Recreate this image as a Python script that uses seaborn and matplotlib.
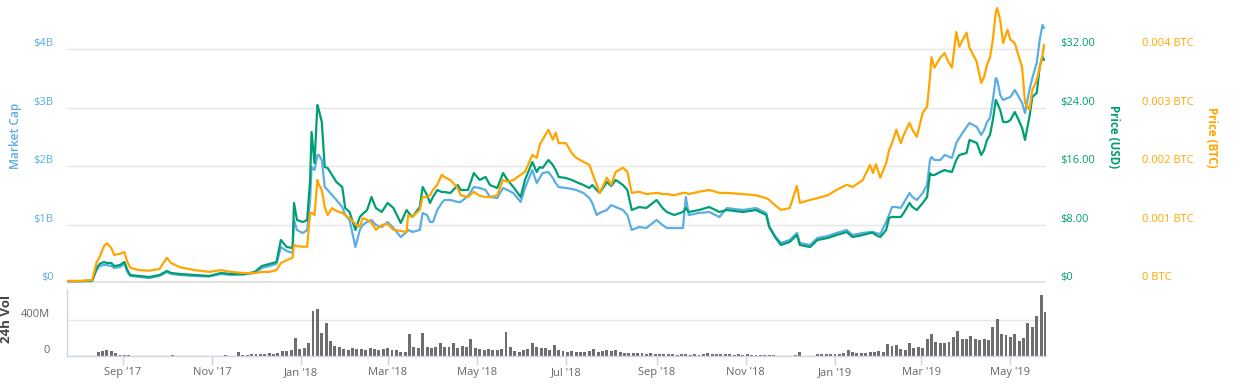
import numpy as np
import pandas as pd
import matplotlib
matplotlib.use("Agg")
import matplotlib.pyplot as plt
import matplotlib.dates as mdates
from matplotlib.ticker import FuncFormatter
import seaborn as sns

sns.set_theme(style="white")
plt.rcParams["font.family"] = ["Open Sans", "DejaVu Sans"]

# ---------------- data ----------------
dates = ["2017-07-25","2017-08-03","2017-08-11","2017-08-14","2017-08-16","2017-08-19","2017-08-21","2017-08-24","2017-08-26","2017-08-30",
         "2017-09-02","2017-09-04","2017-09-06","2017-09-12","2017-09-19","2017-09-26","2017-10-01","2017-10-04","2017-10-10","2017-10-20",
         "2017-10-30","2017-11-07","2017-11-14","2017-11-23","2017-11-30","2017-12-05","2017-12-10","2017-12-15","2017-12-18","2017-12-22",
         "2017-12-26","2017-12-27","2017-12-29","2018-01-02","2018-01-05","2018-01-07","2018-01-08","2018-01-10","2018-01-12","2018-01-13",
         "2018-01-15","2018-01-17","2018-01-19","2018-01-22","2018-01-25","2018-01-29","2018-01-31","2018-02-03","2018-02-07","2018-02-10",
         "2018-02-12","2018-02-15","2018-02-18","2018-02-21","2018-02-25","2018-03-01","2018-03-05","2018-03-10","2018-03-14","2018-03-15",
         "2018-03-18","2018-03-23","2018-03-25","2018-03-28","2018-03-30","2018-04-01","2018-04-04","2018-04-07","2018-04-09","2018-04-13",
         "2018-04-18","2018-04-20","2018-04-25","2018-04-29","2018-05-03","2018-05-07","2018-05-10","2018-05-15","2018-05-19","2018-05-22",
         "2018-05-26","2018-05-31","2018-06-03","2018-06-08","2018-06-11","2018-06-13","2018-06-15","2018-06-19","2018-06-22","2018-06-24",
         "2018-06-26","2018-07-01","2018-07-05","2018-07-08","2018-07-13","2018-07-17","2018-07-19","2018-07-22","2018-07-24","2018-07-29",
         "2018-08-01","2018-08-04","2018-08-09","2018-08-12","2018-08-15","2018-08-20","2018-08-25","2018-09-01","2018-09-05","2018-09-08",
         "2018-09-13","2018-09-19","2018-09-21","2018-09-23","2018-09-30","2018-10-07","2018-10-14","2018-10-19","2018-10-30","2018-11-08",
         "2018-11-15","2018-11-17","2018-11-21","2018-11-25","2018-12-01","2018-12-06","2018-12-08","2018-12-15","2018-12-20","2018-12-27",
         "2019-01-02","2019-01-09","2019-01-13","2019-01-20","2019-01-25","2019-01-27","2019-01-29","2019-02-01","2019-02-05","2019-02-07",
         "2019-02-09","2019-02-12","2019-02-15","2019-02-17","2019-02-21","2019-02-23","2019-02-26","2019-03-02","2019-03-05","2019-03-07",
         "2019-03-08","2019-03-10","2019-03-14","2019-03-17","2019-03-19","2019-03-22","2019-03-25","2019-03-27","2019-04-01","2019-04-03",
         "2019-04-08","2019-04-11","2019-04-13","2019-04-15","2019-04-17","2019-04-19","2019-04-21","2019-04-22","2019-04-24","2019-04-26",
         "2019-04-29","2019-05-01","2019-05-04","2019-05-06","2019-05-09","2019-05-11","2019-05-12","2019-05-14","2019-05-16","2019-05-19",
         "2019-05-21","2019-05-23","2019-05-24"]

price_usd = [0.27,0.27,0.34,2.05,2.60,2.87,2.74,2.74,2.32,2.46,
             2.87,1.78,1.09,0.96,0.82,1.09,1.64,1.37,1.23,1.09,
             0.96,1.37,1.23,1.23,1.50,2.32,2.60,2.87,5.88,4.92,
             4.79,10.94,8.62,8.34,8.62,14.09,20.65,16.41,24.34,23.66,
             22.02,15.86,15.73,14.77,13.81,13.13,10.26,9.71,7.25,9.03,
             9.44,9.98,11.76,10.26,9.71,10.94,10.26,8.21,9.98,9.71,
             9.03,10.39,13.13,12.03,10.94,11.76,12.72,12.44,12.44,12.31,
             13.40,12.72,12.72,15.04,14.09,14.50,13.40,12.99,15.04,14.09,
             13.13,11.76,14.09,16.55,15.18,15.86,15.73,16.82,16.14,15.45,
             14.50,14.36,14.09,13.81,13.40,12.99,13.40,12.72,12.31,13.81,
             13.26,14.09,13.40,12.72,9.98,10.39,10.26,11.35,10.26,9.71,
             9.30,9.71,10.26,9.71,9.98,10.39,9.71,9.98,9.71,9.98,
             9.30,7.66,6.29,5.20,5.61,6.56,5.20,4.92,5.88,6.15,
             6.56,6.97,6.29,6.56,6.84,6.84,6.56,6.29,7.25,8.89,
             9.03,9.03,9.03,9.57,10.94,10.39,9.98,10.94,11.76,15.04,
             14.77,14.77,15.18,15.45,15.32,15.18,16.82,17.50,17.78,19.56,
             19.15,17.50,18.19,19.56,20.24,22.29,25.03,24.62,23.66,22.02,
             22.02,22.29,23.38,22.56,21.20,19.56,20.65,22.70,25.44,25.98,
             29.54,30.91,30.50]

market_cap_bn = [0.026,0.026,0.034,0.222,0.291,0.308,0.308,0.291,0.256,0.274,
                 0.325,0.188,0.120,0.103,0.085,0.120,0.188,0.154,0.137,0.120,
                 0.111,0.154,0.137,0.145,0.171,0.256,0.291,0.325,0.615,0.547,
                 0.513,1.077,0.906,0.855,0.906,1.419,1.983,1.931,2.188,2.188,
                 2.102,1.641,1.590,1.504,1.419,1.299,1.162,1.077,0.615,0.906,
                 0.991,1.043,1.077,0.991,0.957,1.043,0.940,0.786,0.872,0.906,
                 0.872,0.906,1.197,1.162,1.043,1.043,1.248,1.368,1.419,1.419,
                 1.385,1.385,1.487,1.641,1.624,1.590,1.470,1.453,1.624,1.590,
                 1.538,1.385,1.624,1.931,1.709,1.795,1.880,1.897,1.795,1.709,
                 1.641,1.624,1.607,1.590,1.538,1.453,1.368,1.162,1.197,1.248,
                 1.333,1.299,1.248,1.162,0.906,0.957,0.940,1.077,0.991,0.940,
                 0.940,0.940,1.470,1.162,1.197,1.214,1.128,1.282,1.248,1.282,
                 1.197,0.974,0.803,0.684,0.735,0.855,0.684,0.650,0.769,0.803,
                 0.855,0.906,0.821,0.855,0.872,0.872,0.855,0.838,1.043,1.162,
                 1.299,1.299,1.282,1.368,1.538,1.470,1.419,1.538,1.675,2.102,
                 2.154,2.102,2.102,2.188,2.171,2.137,2.393,2.479,2.667,2.735,
                 2.667,2.530,2.615,2.752,2.821,3.128,3.504,3.470,3.214,3.128,
                 3.162,3.179,3.299,3.214,3.077,2.906,3.043,3.299,3.504,3.761,
                 4.154,4.410,4.359]

price_btc = [0.000034,0.000034,0.000051,0.00036,0.00044,0.00063,0.00068,0.00060,0.00048,0.00050,
             0.00053,0.00036,0.00026,0.00022,0.00021,0.00024,0.00043,0.00034,0.00027,0.00022,
             0.00019,0.00022,0.00019,0.00017,0.00017,0.00019,0.00019,0.00022,0.00034,0.00039,
             0.00043,0.00065,0.00063,0.00062,0.00062,0.00120,0.00120,0.00116,0.00176,0.00168,
             0.00159,0.00130,0.00116,0.00128,0.00123,0.00120,0.00116,0.00111,0.00101,0.00096,
             0.00111,0.00108,0.00103,0.00091,0.00099,0.00101,0.00091,0.00089,0.00087,0.00116,
             0.00113,0.00125,0.00147,0.00147,0.00150,0.00159,0.00168,0.00185,0.00181,0.00176,
             0.00162,0.00150,0.00147,0.00156,0.00149,0.00147,0.00147,0.00150,0.00176,0.00173,
             0.00176,0.00185,0.00190,0.00219,0.00214,0.00236,0.00245,0.00262,0.00245,0.00257,
             0.00239,0.00239,0.00222,0.00214,0.00207,0.00202,0.00188,0.00168,0.00154,0.00180,
             0.00168,0.00190,0.00197,0.00190,0.00154,0.00156,0.00152,0.00154,0.00152,0.00152,
             0.00150,0.00154,0.00154,0.00152,0.00156,0.00159,0.00154,0.00154,0.00152,0.00150,
             0.00145,0.00142,0.00133,0.00125,0.00128,0.00166,0.00137,0.00142,0.00145,0.00150,
             0.00159,0.00168,0.00164,0.00176,0.00202,0.00188,0.00203,0.00180,0.00205,0.00227,
             0.00239,0.00262,0.00239,0.00253,0.00274,0.00262,0.00250,0.00291,0.00301,0.00352,
             0.00386,0.00368,0.00385,0.00393,0.00381,0.00368,0.00429,0.00404,0.00428,0.00402,
             0.00378,0.00342,0.00352,0.00373,0.00385,0.00416,0.00463,0.00470,0.00450,0.00410,
             0.00433,0.00416,0.00410,0.00393,0.00369,0.00308,0.00304,0.00296,0.00330,0.00347,
             0.00368,0.00390,0.00407]

# 24h volume (millions USD), one reading every 3 days starting 2017-07-25
vol_start = "2017-07-25"
volume_m = [0,0,0,0,0,0,0,40,55,70,
            55,35,15,12,15,4,3,2,2,2,
            2,2,2,3,8,2,2,2,2,2,
            2,2,3,3,3,4,8,4,5,44,
            6,10,18,25,22,25,28,25,35,60,
            55,70,200,75,90,150,500,520,260,370,
            170,110,100,80,70,85,75,80,70,90,
            75,70,80,85,70,65,40,45,240,95,
            90,260,95,85,100,150,95,100,140,90,
            110,95,185,90,80,70,75,65,70,80,
            265,100,55,50,70,80,140,95,85,90,
            70,120,65,55,50,55,45,50,40,55,
            75,50,60,70,55,65,40,30,35,30,
            28,32,25,30,22,25,20,25,18,15,
            17,18,16,17,15,20,28,25,22,18,
            17,18,16,17,15,17,15,16,15,14,
            15,14,5,2,2,3,8,45,5,3,
            5,20,22,25,20,22,25,30,68,45,
            30,35,30,40,50,55,50,130,110,120,
            80,65,150,90,105,85,190,245,160,150,
            140,160,210,280,190,185,225,190,180,185,
            175,320,415,250,230,215,245,170,200,370,
            320,450,680,490]

y_ticks_mc = [0, 1, 2, 3, 4]
y_ticks_usd = [0, 8, 16, 24, 32]
y_ticks_btc = [0, 0.001, 0.002, 0.003, 0.004]
vol_ticks = [0, 400]

# ---------------- styling ----------------
BLUE = "#5aaee3"
GREEN = "#009e73"
ORANGE = "#ffa500"
GRID = "#e6e6e6"
TICKC = "#666666"
AXISC = "#ccd6eb"

df = pd.DataFrame({"date": pd.to_datetime(dates), "usd": price_usd,
                   "mc": market_cap_bn, "btc": price_btc})
vdf = pd.DataFrame({"date": pd.date_range(vol_start, periods=len(volume_m), freq="3D"),
                    "vol": volume_m})

W_PX, H_PX = 1244, 392
fig = plt.figure(figsize=(W_PX / 100, H_PX / 100), dpi=100)
x0, x1 = 67.4, 1045.5
L, W = x0 / W_PX, (x1 - x0) / W_PX
main_top, main_bot = 5, 283
vol_top, vol_bot = 290, 356
ax = fig.add_axes([L, 1 - main_bot / H_PX, W, (main_bot - main_top) / H_PX])
ax_vol = fig.add_axes([L, 1 - vol_bot / H_PX, W, (vol_bot - vol_top) / H_PX])
ax_usd = ax.twinx()
ax_btc = ax.twinx()

xmin, xmax = pd.Timestamp("2017-07-25"), pd.Timestamp("2019-05-25")
top_units = (main_bot - main_top) / 58.5  # number of grid steps shown

sns.lineplot(data=df, x="date", y="mc", ax=ax, color=BLUE, lw=1.6)
sns.lineplot(data=df, x="date", y="usd", ax=ax_usd, color=GREEN, lw=1.6)
sns.lineplot(data=df, x="date", y="btc", ax=ax_btc, color=ORANGE, lw=1.6)

ax.set_ylim(0, top_units)
ax_usd.set_ylim(0, top_units * 8)
ax_btc.set_ylim(0, top_units * 0.001)
for a in (ax, ax_usd, ax_btc):
    a.set_xlim(xmin, xmax)
    a.set_xlabel("")
    a.set_ylabel("")
    a.patch.set_visible(False)
    for s in a.spines.values():
        s.set_visible(False)
    a.tick_params(axis="x", bottom=False, labelbottom=False, top=False)

ax.set_yticks(y_ticks_mc)
ax.yaxis.set_major_formatter(FuncFormatter(lambda v, p: "$0" if v == 0 else f"${v:.0f}B"))
ax.yaxis.grid(True, color=GRID, lw=1)
ax.set_axisbelow(True)
ax.axhline(0, color="#e3e3e3", lw=3, zorder=0.5)
ax.tick_params(axis="y", length=0, pad=10, labelsize=8, labelcolor=BLUE)

ax_usd.set_yticks(y_ticks_usd)
ax_usd.yaxis.set_major_formatter(FuncFormatter(lambda v, p: "$0" if v == 0 else f"${v:.2f}"))
ax_usd.tick_params(axis="y", length=0, pad=10.4, labelsize=8, labelcolor=GREEN)
ax_usd.grid(False)

ax_btc.set_yticks(y_ticks_btc)
ax_btc.yaxis.set_major_formatter(FuncFormatter(lambda v, p: "0 BTC" if v == 0 else f"{v:.3f} BTC"))
ax_btc.tick_params(axis="y", length=0, pad=69.5, labelsize=8, labelcolor=ORANGE)
ax_btc.grid(False)

for a in (ax, ax_usd, ax_btc):
    for t in a.get_yticklabels():
        t.set_va("bottom")

# volume panel
ax_vol.bar(vdf["date"], vdf["vol"], width=2.0, color="#6e6e6e", linewidth=0)
ax_vol.set_xlim(xmin, xmax)
ax_vol.set_ylim(0, (vol_bot - vol_top) * 400 / 36)
ax_vol.set_yticks(vol_ticks)
ax_vol.yaxis.set_major_formatter(FuncFormatter(lambda v, p: "0" if v == 0 else f"{v:.0f}M"))
ax_vol.yaxis.grid(True, color=GRID, lw=1)
ax_vol.set_axisbelow(True)
ax_vol.tick_params(axis="y", length=0, pad=12.5, labelsize=8, labelcolor=TICKC)
for t in ax_vol.get_yticklabels():
    t.set_va("bottom")
for side in ("top", "right"):
    ax_vol.spines[side].set_visible(False)
for side in ("left", "bottom"):
    ax_vol.spines[side].set_color(AXISC)
    ax_vol.spines[side].set_linewidth(1)
ax_vol.xaxis.set_major_locator(mdates.MonthLocator(bymonth=(1, 3, 5, 7, 9, 11)))
ax_vol.xaxis.set_major_formatter(mdates.DateFormatter("%b '%y"))
ax_vol.tick_params(axis="x", bottom=True, direction="out", length=6.5, width=1,
                   color=AXISC, labelsize=8, labelcolor=TICKC, pad=1.5)
ax_vol.set_xlabel("")
ax_vol.set_ylabel("")

# axis titles
fig.text(16 / W_PX, 1 - 136 / H_PX, "Market Cap", rotation=90, ha="center", va="center",
         color=BLUE, fontsize=8.6, fontweight="semibold")
fig.text(1114 / W_PX, 1 - 137 / H_PX, "Price (USD)", rotation=270, ha="center", va="center",
         color=GREEN, fontsize=8.3, fontweight="bold")
fig.text(1212 / W_PX, 1 - 137 / H_PX, "Price (BTC)", rotation=270, ha="center", va="center",
         color=ORANGE, fontsize=8.3, fontweight="bold")
fig.text(6 / W_PX, 1 - 319 / H_PX, "24h Vol", rotation=90, ha="center", va="center",
         color="#444444", fontsize=9.5, fontweight="bold")

fig.savefig("out.png", dpi=100)
